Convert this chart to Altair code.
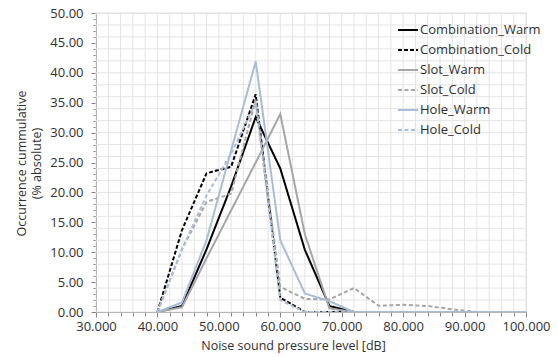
import altair as alt
import pandas as pd

# x positions (dB)
levels = [40, 44, 48, 52, 56, 60, 64, 68, 72, 76, 80, 84, 88, 92, 96, 100]

series_names = ["Combination_Warm", "Combination_Cold", "Slot_Warm",
                "Slot_Cold", "Hole_Warm", "Hole_Cold"]

combination_warm = [0, 1.0, 10.5, 21.0, 32.6, 24.0, 10.4, 1.0, 0, 0, 0, 0, 0, 0, 0, 0]
combination_cold = [0, 13.7, 23.2, 24.3, 36.4, 2.4, 0, 0, 0, 0, 0, 0, 0, 0, 0, 0]
slot_warm = [0, 0.8, 9.0, 17.0, 25.0, 33.1, 13.0, 0.6, 0, 0, 0, 0, 0, 0, 0, 0]
slot_cold = [0, 10.5, 18.4, 19.8, 35.5, 4.2, 2.2, 2.1, 4.0, 1.05, 1.2, 1.0, 0.45, 0, 0, 0]
hole_warm = [0, 1.6, 12.0, 27.0, 41.9, 12.0, 3.1, 1.8, 0, 0, 0, 0, 0, 0, 0, 0]
hole_cold = [0, 10.5, 19.5, 26.5, 35.0, 2.0, 0, 0, 0, 0, 0, 0, 0, 0, 0, 0]

all_series = [combination_warm, combination_cold, slot_warm, slot_cold, hole_warm, hole_cold]

colors = ["#000000", "#000000", "#a6a6a6", "#a6a6a6", "#a9bcd8", "#a9bcd8"]
dashes = [[1, 0], [4, 2], [1, 0], [4, 2.5], [1, 0], [4, 2.5]]
widths = [2.0, 2.0, 1.5, 1.5, 1.6, 1.5]

x_grid = list(range(30, 101, 2))
y_grid = list(range(0, 51, 2))
x_ticks = list(range(30, 101, 2))
y_ticks = list(range(0, 51, 1))

rows = []
for name, vals in zip(series_names, all_series):
    for lv, v in zip(levels, vals):
        rows.append({"level": lv, "value": v, "series": name})
df = pd.DataFrame(rows)

FONT = "Open Sans"
TXT = "#303030"
xscale = alt.Scale(domain=[30, 100], nice=False, zero=False)
yscale = alt.Scale(domain=[0, 50], nice=False)

x_axis = alt.Axis(
    values=x_ticks,
    labelExpr="datum.value % 10 === 0 ? format(datum.value, '.3f') : ''",
    grid=False,
    tickSize={"condition": {"test": "datum.value % 10 === 0", "value": 5}, "value": 4},
    tickColor="#868686", domainColor="#868686", domainWidth=1,
    labelFont=FONT, labelFontSize=13, labelColor=TXT, labelPadding=3,
    labelOverlap=False, labelFlush=False,
    title="Noise sound pressure  level [dB]",
    titleFont=FONT, titleFontSize=12.5, titleFontWeight="normal", titleColor=TXT,
    titleX=197, titleY=33, titleBaseline="middle", titleAlign="center",
)
y_axis = alt.Axis(
    values=y_ticks,
    labelExpr="datum.value % 5 === 0 ? format(datum.value, '.2f') : ''",
    grid=False,
    tickSize={"condition": {"test": "datum.value % 5 === 0", "value": 5}, "value": 3},
    tickColor="#868686", domainColor="#868686", domainWidth=1,
    labelFont=FONT, labelFontSize=13, labelColor=TXT, labelPadding=8,
    labelOverlap=False, labelFlush=False,
    title=["Occurrence cummulative", "(% absolute)"],
    titleFont=FONT, titleFontSize=12.5, titleFontWeight="normal", titleColor=TXT,
    titleX=-75, titleY=150, titleBaseline="middle", titleAlign="center",
    titleLineHeight=15,
)

grid_x = alt.Chart(pd.DataFrame({"g": x_grid})).mark_rule(
    color="#e4e4e4", strokeWidth=1
).encode(x=alt.X("g:Q", scale=xscale, axis=x_axis))

grid_y = alt.Chart(pd.DataFrame({"g": y_grid})).mark_rule(
    color="#e4e4e4", strokeWidth=1
).encode(y=alt.Y("g:Q", scale=yscale, axis=y_axis))

legend = alt.Legend(
    title=None, orient="none", legendX=301, legendY=6,
    symbolType="stroke", symbolSize=400, symbolStrokeWidth=2,
    labelFont=FONT, labelFontSize=13, labelColor=TXT, labelOffset=1,
    rowPadding=2, padding=0, labelLimit=200,
)

lines = alt.Chart(df).mark_line(clip=True).encode(
    x=alt.X("level:Q", scale=xscale, axis=x_axis),
    y=alt.Y("value:Q", scale=yscale, axis=y_axis),
    color=alt.Color("series:N", scale=alt.Scale(domain=series_names, range=colors), legend=legend),
    strokeDash=alt.StrokeDash("series:N", scale=alt.Scale(domain=series_names, range=dashes), legend=legend),
    strokeWidth=alt.StrokeWidth("series:N", scale=alt.Scale(domain=series_names, range=widths), legend=legend),
)

chart = alt.layer(grid_x, grid_y, lines).properties(
    width=430, height=299,
    autosize=alt.AutoSizeParams(type="none"),
    padding={"left": 96, "top": 13, "right": 32, "bottom": 45},
).configure_view(stroke="#c8c8c8", strokeWidth=1).configure(background="white")

chart.save("out.html", embed_options={"renderer": "svg", "actions": False})
